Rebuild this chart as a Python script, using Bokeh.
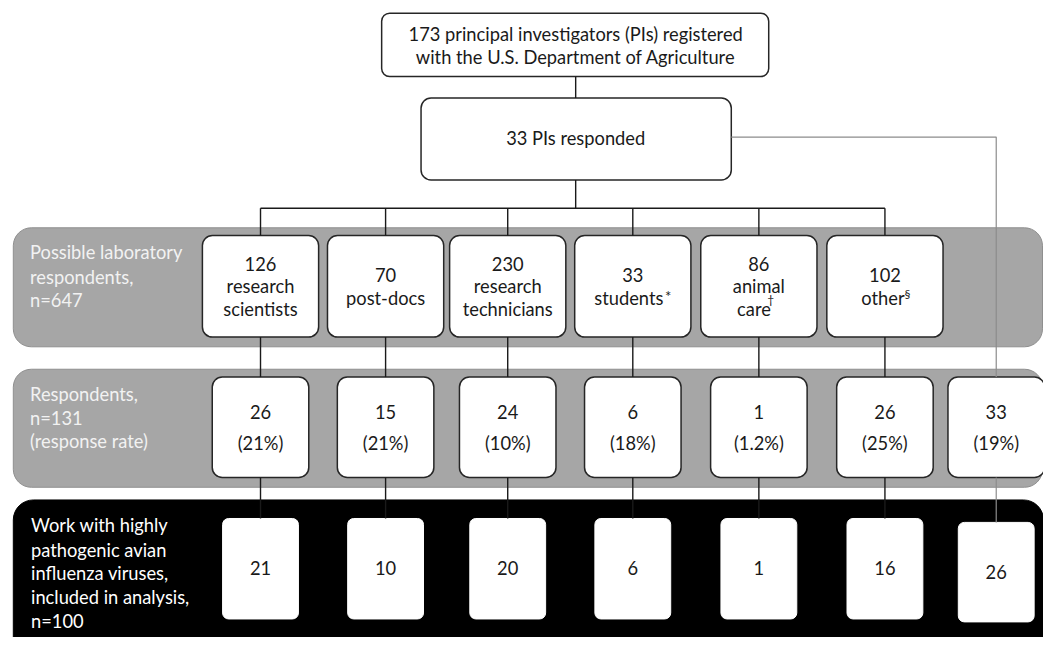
from bokeh.plotting import figure
from bokeh.models import Range1d, BoxAnnotation
from bokeh.core.properties import value
from bokeh.embed import file_html
from bokeh.resources import INLINE

# ---------------- data ----------------
top_label = ["173 principal investigators (PIs) registered",
             "with the U.S. Department of Agriculture"]
pi_label = "33 PIs responded"
categories = [["research", "scientists"], ["post-docs"], ["research", "technicians"],
              ["students"], ["animal", "care"], ["other"]]
footnotes = ["", "", "", "*", "\u2020", "\u00a7"]
possible = [126, 70, 230, 33, 86, 102]
respondents = [26, 15, 24, 6, 1, 26, 33]
response_rate = ["21%", "21%", "10%", "18%", "1.2%", "25%", "19%"]
included = [21, 10, 20, 6, 1, 16, 26]
row_labels = [["Possible laboratory", "respondents,", "n=647"],
              ["Respondents,", "n=131", "(response rate)"],
              ["Work with highly", "pathogenic avian", "influenza viruses,",
               "included in analysis,", "n=100"]]

# ---------------- layout (pixel coords, y down) ----------------
W, H = 1059, 653
def Y(py):
    return H - py

FONT = value("Lato")
FS = "18.3px"
TXT = "#1a1a1a"

p = figure(width=1043, height=637, x_range=Range1d(0, W), y_range=Range1d(0, H),
           output_backend="svg", toolbar_location=None, min_border=0)
p.axis.visible = False
p.grid.visible = False
p.outline_line_color = None
p.background_fill_color = "white"
p.border_fill_color = "white"

def box(l, r, t, b, rad, fill="white", line="#262626", lw=1.5):
    p.add_layout(BoxAnnotation(left=l, right=r, top=Y(t), bottom=Y(b), border_radius=rad,
                               fill_color=fill, fill_alpha=1.0, line_color=line,
                               line_width=lw, line_alpha=1.0,
                               level="underlay", editable=False))

col_x = [264, 391, 515, 642, 770, 898, 1011]

# bands
box(13, 1058, 233, 355, 18, fill="#a6a6a6", line="#8f8f8f", lw=1)
box(13, 1058, 378, 499, 18, fill="#a6a6a6", line="#8f8f8f", lw=1)
box(13, 1059, 512, 700, 20, fill="#000000", line="#000000", lw=1)

# top boxes
box(387, 780, 13, 78, 8)
box(427, 742, 100, 184, 10)

for i in range(6):
    box(col_x[i] - 59, col_x[i] + 59, 241, 345, 10)
for i in range(7):
    box(col_x[i] - 49, col_x[i] + 49, 386, 489, 10)
for i in range(7):
    t, b = (535, 637) if i == 6 else (531, 634)
    box(col_x[i] - 38.5, col_x[i] + 38.5, t, b, 6, line="white", lw=1)

# connectors
xs, ys = [], []
def seg(pts):
    xs.append([q[0] for q in pts]); ys.append([Y(q[1]) for q in pts])
seg([(584, 78), (584, 100)])
seg([(584, 184), (584, 213)])
seg([(col_x[0], 213), (col_x[5], 213)])
for i in range(6):
    seg([(col_x[i], 213), (col_x[i], 241)])
    seg([(col_x[i], 345), (col_x[i], 386)])
    seg([(col_x[i], 489), (col_x[i], 531)])
p.multi_line(xs, ys, line_color="#1a1a1a", line_width=1.4)

gx = [[742, col_x[6], col_x[6]], [col_x[6], col_x[6]]]
gy = [[Y(140), Y(140), Y(386)], [Y(489), Y(535)]]
p.multi_line(gx, gy, line_color="#8c8c8c", line_width=1.2)

def txt(x, y, t, align="center", color=TXT, size=FS):
    p.text(x=x, y=[Y(v) for v in y], text=t, text_align=align, text_baseline="middle",
           text_font=FONT, text_font_size=size, text_color=color)

# top texts
txt([584, 584], [34, 58], top_label)
txt([584], [141], [pi_label])

# row 1
r1x, r1y, r1t = [], [], []
sx, sy, st, ssz = [], [], [], []
word_center_shift = [0, 0, 0, -4, -5, -2]
sup_pos = [None, None, None, (678, 303), (782, 307), (921, 300)]
sup_size = [None, None, None, "15px", "12px", "12px"]
for i in range(6):
    lines = [str(possible[i])] + categories[i]
    n = len(lines)
    y0 = 293 - (n - 1) * 23 / 2
    for k, ln in enumerate(lines):
        shift = word_center_shift[i] if (k == n - 1 and footnotes[i]) else 0
        r1x.append(col_x[i] + shift); r1y.append(y0 + 23 * k); r1t.append(ln)
    if footnotes[i]:
        txt([sup_pos[i][0]], [sup_pos[i][1]], [footnotes[i]], size=sup_size[i])
txt(r1x, r1y, r1t)

# row 2
txt(col_x, [422] * 7, [str(v) for v in respondents])
txt(col_x, [454] * 7, ["(" + r + ")" for r in response_rate])

# row 3
txt(col_x, [582] * 6 + [586], [str(v) for v in included])

# row labels
txt([30] * 3, [258, 283, 307], row_labels[0], align="left", color="#f2f2f2")
txt([30] * 3, [403, 428, 452], row_labels[1], align="left", color="#f2f2f2")
txt([31] * 5, [538, 563, 587, 611, 636], row_labels[2], align="left", color="white")

open("out.html", "w").write(file_html(p, INLINE))
